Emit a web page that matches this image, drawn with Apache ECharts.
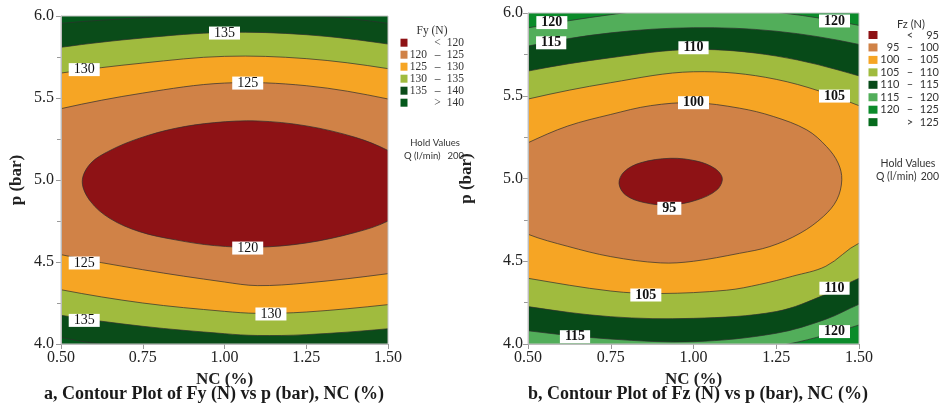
<!DOCTYPE html>
<html><head><meta charset="utf-8">
<script src="https://cdn.jsdelivr.net/npm/echarts@6/dist/echarts.min.js"></script>
<style>html,body{margin:0;padding:0;background:#fff}#c{width:941px;height:405px}</style>
</head><body><div id="c"></div><script>
const SERIF = "'Liberation Serif','Times New Roman',serif";
const SANS = "Lato,'Noto Sans',sans-serif";

// ---- shared axis ticks ----
const xTicks = [0.50, 0.75, 1.00, 1.25, 1.50];
const yTicks = [4.0, 4.5, 5.0, 5.5, 6.0];

// ---- panel a : Fy (N) ---- (contour traces, in NC / p units)
const fyLevels = [140, 135, 130, 125, 120];
const fyC140 = [[0.3,5.90],[0.5,5.955],[0.75,5.99],[1.05,6.03],[1.3,6.0],[1.5,5.955],[1.7,5.89],[1.85,4.95],[1.7,4.0],[1.5,3.96],[1.25,3.925],[1.0,3.93],[0.75,3.965],[0.614,4.0],[0.5,4.04],[0.3,4.13],[0.15,5.0]];
const fyC135 = [[0.3,5.74],[0.5,5.809],[0.75,5.866],[1.0,5.90],[1.25,5.886],[1.5,5.829],[1.7,5.755],[1.85,4.95],[1.7,4.14],[1.5,4.093],[1.25,4.057],[1.1,4.052],[1.0,4.063],[0.75,4.108],[0.5,4.175],[0.3,4.25],[0.15,5.0]];
const fyC130 = [[0.3,5.58],[0.5,5.652],[0.75,5.713],[1.0,5.754],[1.25,5.74],[1.5,5.679],[1.7,5.60],[1.85,4.95],[1.7,4.29],[1.5,4.24],[1.25,4.195],[1.1,4.187],[1.0,4.199],[0.75,4.25],[0.5,4.331],[0.3,4.42],[0.15,5.0]];
const fyC125 = [[0.3,5.33],[0.5,5.435],[0.75,5.53],[1.0,5.591],[1.25,5.575],[1.5,5.494],[1.7,5.39],[1.85,4.95],[1.7,4.49],[1.5,4.429],[1.25,4.372],[1.1,4.356],[1.0,4.378],[0.75,4.453],[0.5,4.545],[0.3,4.65],[0.15,5.0]];
const fyC120 = [[0.565,4.99],[0.59,5.10],[0.65,5.18],[0.74,5.255],[0.85,5.315],[0.97,5.35],[1.10,5.36],[1.25,5.33],[1.40,5.26],[1.50,5.18],[1.58,5.08],[1.61,4.97],[1.58,4.86],[1.50,4.75],[1.40,4.68],[1.25,4.616],[1.10,4.59],[0.97,4.60],[0.85,4.635],[0.74,4.685],[0.65,4.765],[0.59,4.87]];
const fyContours = [fyC140, fyC135, fyC130, fyC125, fyC120];
const fyBandLow  = [null, 120, 125, 130, 135, 140];
const fyBandHigh = [120, 125, 130, 135, 140, null];
const fyColors = ['#8e1215','#d08247','#f6a524','#a0bb3e','#0a4c19','#04581b'];
const fyLabelX = [1.0, 0.571, 1.071, 1.071, 0.571, 1.142, 0.571];
const fyLabelY = [5.896, 5.673, 5.591, 4.585, 4.494, 4.183, 4.144];
const fyLabelV = [135, 130, 125, 120, 125, 130, 135];

// ---- panel b : Fz (N) ----
const fzLevels = [120, 115, 110, 105, 100, 95];
const fzC120 = [[0.3,5.82],[0.5,5.91],[0.75,5.99],[1.0,6.04],[1.27,6.0],[1.5,5.925],[1.7,5.83],[1.85,5.0],[1.7,4.25],[1.5,4.115],[1.4,4.055],[1.287,4.0],[1.0,3.9],[0.7,3.88],[0.5,3.9],[0.3,3.95],[0.15,4.9]];
const fzC115 = [[0.3,5.70],[0.5,5.80],[0.75,5.88],[1.0,5.911],[1.25,5.89],[1.5,5.81],[1.7,5.70],[1.85,5.0],[1.7,4.40],[1.5,4.24],[1.4,4.15],[1.25,4.065],[1.0,4.014],[0.75,4.03],[0.5,4.08],[0.3,4.14],[0.15,4.9]];
const fzC110 = [[0.3,5.55],[0.5,5.649],[0.75,5.73],[1.0,5.78],[1.25,5.74],[1.5,5.62],[1.7,5.48],[1.85,5.0],[1.7,4.55],[1.5,4.397],[1.4,4.30],[1.25,4.196],[1.0,4.155],[0.75,4.165],[0.5,4.226],[0.3,4.30],[0.15,4.9]];
const fzC105 = [[0.3,5.37],[0.5,5.48],[0.75,5.579],[1.0,5.645],[1.25,5.599],[1.5,5.44],[1.7,5.25],[1.85,5.0],[1.7,4.75],[1.5,4.609],[1.4,4.47],[1.3,4.41],[1.2,4.36],[1.1,4.325],[0.9,4.305],[0.75,4.32],[0.5,4.397],[0.3,4.47],[0.15,4.9]];
const fzC100 = [[0.5,5.216],[0.62,5.317],[0.75,5.387],[0.87,5.44],[1.0,5.458],[1.139,5.425],[1.241,5.375],[1.342,5.294],[1.402,5.193],[1.437,5.093],[1.448,4.992],[1.433,4.871],[1.392,4.77],[1.322,4.669],[1.231,4.589],[1.139,4.548],[1.0,4.50],[0.9,4.49],[0.75,4.528],[0.62,4.59],[0.5,4.663],[0.35,4.80],[0.28,4.94],[0.35,5.07]];
const fzC95 = [[0.775,4.97],[0.79,5.04],[0.84,5.095],[0.93,5.122],[1.01,5.105],[1.065,5.06],[1.087,5.0],[1.07,4.93],[1.01,4.87],[0.93,4.84],[0.85,4.855],[0.795,4.90]];
const fzContours = [fzC120, fzC115, fzC110, fzC105, fzC100, fzC95];
const fzBandLow  = [null, 95, 100, 105, 110, 115, 120, 125];
const fzBandHigh = [95, 100, 105, 110, 115, 120, 125, null];
const fzColors = ['#8e1215','#d08247','#f6a524','#a0bb3e','#074a18','#52ae5a','#0b8b2a','#056b1c'];
const fzLabelX = [0.572, 1.426, 0.570, 1.0, 1.426, 1.0, 0.927, 0.856, 1.426, 0.642, 1.426];
const fzLabelY = [5.942, 5.952, 5.820, 5.79, 5.498, 5.458, 4.82, 4.296, 4.337, 4.044, 4.075];
const fzLabelV = [120, 120, 115, 110, 105, 100, 95, 105, 110, 115, 120];

// ---------------------------------------------
const series = [];
function polySeries(gi, pts, color, z) {
  return {
    type: 'custom', xAxisIndex: gi, yAxisIndex: gi, clip: true, silent: true, z: z,
    data: pts,
    renderItem: function (params, api) {
      if (params.dataIndex !== 0) return null;
      const p = pts.map(d => api.coord(d));
      return { type: 'polygon', shape: { points: p, smooth: 0.35 },
               style: { fill: color, stroke: '#2e2e2e', lineWidth: 0.7 } };
    }
  };
}
fyContours.forEach((pts, i) => {
  const bandIdx = fyBandHigh.indexOf(fyLevels[i]);
  series.push(polySeries(0, pts, fyColors[bandIdx], 2 + i));
});
fzContours.forEach((pts, i) => {
  const bandIdx = fzBandHigh.indexOf(fzLevels[i]);
  series.push(polySeries(1, pts, fzColors[bandIdx], 2 + i));
});
function labelSeries(gi, xs, ys, vs, bold) {
  return {
    type: 'scatter', xAxisIndex: gi, yAxisIndex: gi, silent: true, z: 20,
    symbolSize: 1, itemStyle: { color: 'rgba(0,0,0,0)', opacity: 1 },
    data: xs.map((x, i) => [x, ys[i], vs[i]]),
    label: { show: true, position: 'inside', formatter: p => String(p.value[2]),
      backgroundColor: '#ffffff', padding: [0, 5], lineHeight: 13, opacity: 1,
      fontFamily: SERIF, fontSize: 14, fontWeight: bold ? 'bold' : 'normal', color: '#111' }
  };
}
series.push(labelSeries(0, fyLabelX, fyLabelY, fyLabelV, false));
series.push(labelSeries(1, fzLabelX, fzLabelY, fzLabelV, true));
// plot frame
[0, 1].forEach(gi => series.push({
  type: 'custom', xAxisIndex: gi, yAxisIndex: gi, silent: true, z: 30, data: [[1, 5]],
  renderItem: (params) => {
    const c = params.coordSys;
    return { type: 'rect', shape: { x: c.x, y: c.y, width: c.width, height: c.height },
             style: { fill: 'none', stroke: '#c4c4c4', lineWidth: 1 } };
  }
}));

function xAxis(gi) {
  return { type: 'value', gridIndex: gi, min: xTicks[0], max: xTicks[xTicks.length - 1],
    interval: xTicks[1] - xTicks[0], z: 25,
    axisLine: { show: true, lineStyle: { color: '#b5b5b5' } },
    axisTick: { show: true, length: 5, lineStyle: { color: '#9a9a9a' } },
    splitLine: { show: false },
    axisLabel: { formatter: v => v.toFixed(2), fontFamily: SERIF, fontSize: 16, color: '#222', margin: 6 },
    name: 'NC (%)', nameLocation: 'middle', nameGap: 19,
    nameTextStyle: { fontFamily: SERIF, fontSize: 17, fontWeight: 'bold', color: '#222' } };
}
function yAxis(gi, gap, margin) {
  return { type: 'value', gridIndex: gi, min: yTicks[0], max: yTicks[yTicks.length - 1],
    interval: yTicks[1] - yTicks[0], z: 25,
    axisLine: { show: true, lineStyle: { color: '#b5b5b5' } },
    axisTick: { show: true, length: 5, lineStyle: { color: '#9a9a9a' } },
    minorTick: { show: true, splitNumber: 2, length: 4, lineStyle: { color: '#9a9a9a' } },
    splitLine: { show: false },
    axisLabel: { formatter: v => v.toFixed(1), fontFamily: SERIF, fontSize: 16, color: '#222', margin: margin },
    name: 'p (bar)', nameLocation: 'middle', nameGap: gap,
    nameTextStyle: { fontFamily: SERIF, fontSize: 17, fontWeight: 'bold', color: '#222' } };
}

// legends (graphic)
const graphic = [];
function txt(x, y, text, align, font, size, weight) {
  graphic.push({ type: 'text', x: x, y: y, silent: true,
    style: { text: text, align: align, verticalAlign: 'middle', fontFamily: font, fontSize: size,
             fontWeight: weight || 'normal', fill: '#333' } });
}
function legend(title, low, high, colors, o) {
  txt(o.titleX, o.titleY, title, 'center', o.font, o.size);
  low.forEach((lo, i) => {
    const y = o.y0 + o.dy * i;
    graphic.push({ type: 'rect', x: o.swX, y: y - o.swH / 2, silent: true,
      shape: { width: o.swW, height: o.swH }, style: { fill: colors[i] } });
    const hi = high[i];
    if (lo === null) { txt(o.signX, y, '<', 'center', o.font, o.size); txt(o.hiX, y, String(hi), 'right', o.font, o.size); }
    else if (hi === null) { txt(o.signX, y, '>', 'center', o.font, o.size); txt(o.hiX, y, String(lo), 'right', o.font, o.size); }
    else { txt(o.loX, y, String(lo), 'right', o.font, o.size); txt(o.signX, y, '–', 'center', o.font, o.size); txt(o.hiX, y, String(hi), 'right', o.font, o.size); }
  });
  txt(o.holdX, o.holdY, 'Hold Values', 'center', SANS, o.holdSize);
  txt(o.qX, o.holdY + 13, 'Q (l/min)', 'left', SANS, o.holdSize);
  txt(o.hiX, o.holdY + 13, '200', 'right', SANS, o.holdSize);
}
legend('Fy (N)', fyBandLow, fyBandHigh, fyColors,
  { titleX: 432, titleY: 31, font: SERIF, size: 11.5, y0: 42.7, dy: 12, swX: 400.5, swW: 7, swH: 8,
    loX: 427, signX: 437.5, hiX: 464, holdX: 435, holdY: 143, qX: 404, holdSize: 9.5 });
legend('Fz (N)', fzBandLow, fzBandHigh, fzColors,
  { titleX: 911, titleY: 24, font: SANS, size: 11, y0: 35, dy: 12.45, swX: 868.5, swW: 9, swH: 8,
    loX: 899.5, signX: 910, hiX: 939, holdX: 908, holdY: 164, qX: 876, holdSize: 10.5 });
// panel titles
graphic.push({ type: 'text', x: 214, y: 394, silent: true, style: { text: 'a, Contour Plot of Fy (N) vs p (bar), NC (%)',
  align: 'center', verticalAlign: 'middle', fontFamily: SERIF, fontSize: 18, fontWeight: 'bold', fill: '#1a1a1a' } });
graphic.push({ type: 'text', x: 698, y: 394, silent: true, style: { text: 'b, Contour Plot of Fz (N) vs p (bar), NC (%)',
  align: 'center', verticalAlign: 'middle', fontFamily: SERIF, fontSize: 18, fontWeight: 'bold', fill: '#1a1a1a' } });

const chart = echarts.init(document.getElementById('c'), null, { renderer: 'canvas' });
chart.setOption({
  animation: false,
  backgroundColor: '#fff',
  grid: [
    { left: 61, top: 16, width: 327, height: 328, show: true, backgroundColor: fyColors[5], borderWidth: 0 },
    { left: 528, top: 13, width: 331, height: 331, show: true, backgroundColor: fzColors[6], borderWidth: 0 }
  ],
  xAxis: [xAxis(0), xAxis(1)],
  yAxis: [yAxis(0, 36, 7), yAxis(1, 53, 5)],
  series: series,
  graphic: graphic
});
</script></body></html>
